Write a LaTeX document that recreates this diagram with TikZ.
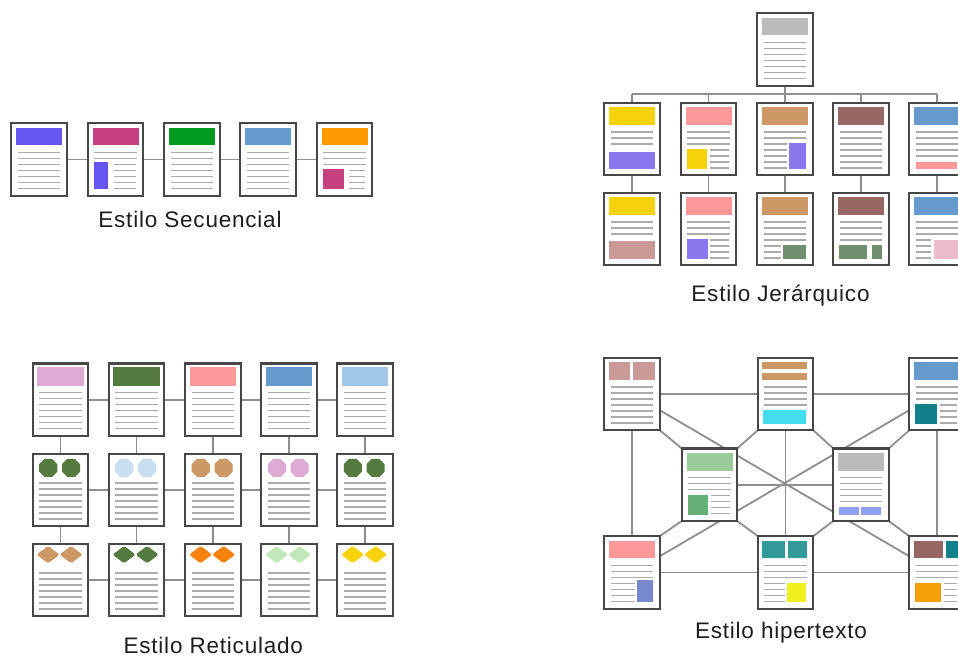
\documentclass[tikz,border=0pt]{standalone}
\usepackage{fontspec}
\setmainfont{Liberation Sans}[LetterSpace=3.5]
\usetikzlibrary{calc,backgrounds}
\definecolor{pageborder}{HTML}{474747}
\definecolor{linegray}{HTML}{ABABAB}
\definecolor{conngray}{HTML}{8E8E8E}
\definecolor{labeltext}{HTML}{1E1E1E}
\definecolor{cviolet}{HTML}{6655EE}
\definecolor{cmagenta}{HTML}{C84080}
\definecolor{cgreen}{HTML}{009922}
\definecolor{cblue}{HTML}{6699CC}
\definecolor{corange}{HTML}{FF9900}
\definecolor{cgray}{HTML}{BBBBBB}
\definecolor{cyellow}{HTML}{F5D20A}
\definecolor{cpink}{HTML}{FF9999}
\definecolor{ctan}{HTML}{CC9966}
\definecolor{cbrown}{HTML}{996666}
\definecolor{cpurple}{HTML}{8877EE}
\definecolor{crose}{HTML}{CC9999}
\definecolor{csage}{HTML}{6F8F70}
\definecolor{cpinklt}{HTML}{EEBBCC}
\definecolor{clilac}{HTML}{DDAAD6}
\definecolor{cdkgreen}{HTML}{557A3E}
\definecolor{cskyblue}{HTML}{A0C6E8}
\definecolor{cpaleblue}{HTML}{C8DFF2}
\definecolor{cbrorange}{HTML}{F8820F}
\definecolor{cltgreen}{HTML}{C0E8B8}
\definecolor{ccyan}{HTML}{44DDEE}
\definecolor{cteal}{HTML}{117F8C}
\definecolor{cmint}{HTML}{99CC99}
\definecolor{cgreenb}{HTML}{66B077}
\definecolor{cperi}{HTML}{8FA0EE}
\definecolor{cblueb}{HTML}{7788CC}
\definecolor{cteallt}{HTML}{339999}
\definecolor{clemon}{HTML}{F0F020}
\definecolor{camber}{HTML}{F5A00A}
\tikzset{
  pagebox/.style={draw=pageborder, line width=2.2pt, fill=white, minimum width=55.6pt, minimum height=72.6pt, inner sep=0pt, outer sep=0pt},
  txt/.style={draw=linegray, line width=1.5pt},
  conn/.style={draw=conngray, line width=1.8pt},
  lbl/.style={font=\fontsize{22.5}{25}\selectfont, text=labeltext, inner sep=0pt}
}
\newcommand\fullines[2]{\foreach \k in {#1,...,#2}{\draw[txt] (7.7,{30.3+6*\k}) -- (50,{30.3+6*\k});}}
\newcommand\shortlines[4]{\foreach \k in {#3,...,#4}{\draw[txt] (#1,{30.3+6*\k}) -- (#2,{30.3+6*\k});}}
\newcommand\blk[5]{\fill[#1] (#2,#3) rectangle (#4,#5);}
\newcommand\pghead[1]{\blk{#1}{6}{5.5}{52}{23.3}}
\newcommand\octa[3]{\fill[#3,shift={(#1,#2)}] (22.5:9.8) -- (67.5:9.8) -- (112.5:9.8) -- (157.5:9.8) -- (202.5:9.8) -- (247.5:9.8) -- (292.5:9.8) -- (337.5:9.8) -- cycle;}
\newcommand\octs[1]{\octa{16.7}{15.3}{#1}\octa{39.5}{15.3}{#1}}
\newcommand\diam[3]{\fill[#3,shift={(#1,#2)},rounded corners=1.5pt] (-11.5,0) -- (0,-8.7) -- (11.5,0) -- (0,8.7) -- cycle;}
\newcommand\dias[1]{\diam{16.5}{12}{#1}\diam{39.5}{12}{#1}}
\newcommand\pg[4]{\node[pagebox] (#1) at (#2,#3) {};
  \begin{scope}[shift={($(#1.north west)+(-1.1,-1.1)$)}]#4\end{scope}}
\begin{document}
\begin{tikzpicture}[x=1pt,y=-1pt]
\begin{scope}[on background layer]
  \fill[white] (0,0) rectangle (958,657);
\end{scope}
\useasboundingbox (0,0) rectangle (958,657);
% ---------------- Sequential ----------------
\pg{s1}{39}{159.5}{\pghead{cviolet}\fullines{0}{6}}
\pg{s2}{115.5}{159.5}{\pghead{cmagenta}\fullines{0}{1}\blk{cviolet}{7.3}{39.7}{21.3}{67.3}\shortlines{27.3}{49}{2}{6}}
\pg{s3}{192}{159.5}{\pghead{cgreen}\fullines{0}{6}}
\pg{s4}{268}{159.5}{\pghead{cblue}\fullines{0}{6}}
\pg{s5}{344.5}{159.5}{\pghead{corange}\fullines{0}{2}\blk{cmagenta}{7.2}{47.3}{28.8}{67.3}\shortlines{33.5}{49}{3}{6}}
\node[lbl] (tseq) at (190,219.5) {Estilo Secuencial};
% ---------------- Hierarchical ----------------
\pg{h0}{785}{49.5}{\pghead{cgray}\fullines{0}{6}}
\pg{ha1}{632}{139}{\pghead{cyellow}\fullines{0}{2}\blk{cpurple}{6}{50}{51.7}{67.3}}
\pg{ha2}{708.5}{139}{\pghead{cpink}\fullines{0}{2}\blk{cyellow}{7.3}{47.6}{27.3}{67.3}\shortlines{30}{49.3}{3}{6}}
\pg{ha3}{785}{139}{\pghead{ctan}\fullines{0}{1}\blk{cpurple}{33.3}{41.6}{49.7}{67.3}\shortlines{7.7}{31.3}{2}{6}}
\pg{ha4}{861}{139}{\pghead{cbrown}\fullines{0}{6}}
\pg{ha5}{937}{139}{\pghead{cblue}\fullines{0}{4}\blk{cpink}{7.7}{60}{49}{67.3}}
\pg{hb1}{632}{229}{\pghead{cyellow}\fullines{0}{2}\blk{crose}{6}{49.3}{51.7}{67.8}}
\pg{hb2}{708.5}{229}{\pghead{cpink}\fullines{0}{2}\blk{cpurple}{7.3}{47.6}{28}{67.3}\shortlines{30.5}{49.3}{3}{6}}
\pg{hb3}{785}{229}{\pghead{ctan}\fullines{0}{3}\blk{csage}{27.3}{53.5}{49.7}{67.3}\shortlines{7.7}{24.5}{4}{6}}
\pg{hb4}{861}{229}{\pghead{cbrown}\fullines{0}{3}\blk{csage}{7.3}{53.5}{35.3}{67.3}\blk{csage}{39.7}{53.5}{49.7}{67.3}}
\pg{hb5}{937}{229}{\pghead{cblue}\fullines{0}{2}\blk{cpinklt}{25.7}{48}{50}{67.3}\shortlines{7.7}{23.3}{3}{6}}
\coordinate (bus) at (785,94.3);
\node[lbl] (thier) at (780.5,296) {Estilo Jerárquico};
% ---------------- Grid ----------------
\pg{ga1}{60.5}{399.7}{\blk{clilac}{5.5}{5}{52}{24}\fullines{0}{6}}
\pg{ga2}{136.5}{399.7}{\blk{cdkgreen}{5.5}{5}{52}{24}\fullines{0}{6}}
\pg{ga3}{213}{399.7}{\blk{cpink}{5.5}{5}{52}{24}\fullines{0}{6}}
\pg{ga4}{289}{399.7}{\blk{cblue}{5.5}{5}{52}{24}\fullines{0}{6}}
\pg{ga5}{365}{399.7}{\blk{cskyblue}{5.5}{5}{52}{24}\fullines{0}{6}}
\pg{gb1}{60.5}{490}{\octs{cdkgreen}\fullines{0}{6}}
\pg{gb2}{136.5}{490}{\octs{cpaleblue}\fullines{0}{6}}
\pg{gb3}{213}{490}{\octs{ctan}\fullines{0}{6}}
\pg{gb4}{289}{490}{\octs{clilac}\fullines{0}{6}}
\pg{gb5}{365}{490}{\octs{cdkgreen}\fullines{0}{6}}
\pg{gc1}{60.5}{580}{\dias{ctan}\fullines{0}{6}}
\pg{gc2}{136.5}{580}{\dias{cdkgreen}\fullines{0}{6}}
\pg{gc3}{213}{580}{\dias{cbrorange}\fullines{0}{6}}
\pg{gc4}{289}{580}{\dias{cltgreen}\fullines{0}{6}}
\pg{gc5}{365}{580}{\dias{cyellow}\fullines{0}{6}}
\node[lbl] (tgrid) at (213.3,645.3) {Estilo Reticulado};
% ---------------- Hypertext ----------------
\pg{tl}{632}{394}{\blk{crose}{6}{5.7}{27.3}{23.3}\blk{crose}{30}{5.7}{51.7}{23.3}\fullines{0}{6}}
\pg{tm}{785.5}{394}{\blk{ctan}{5.5}{5.7}{50.7}{12.7}\blk{ctan}{5.5}{16}{50.7}{23.3}\fullines{0}{3}\blk{ccyan}{6.7}{53.3}{49}{67.3}}
\pg{tr}{937}{394}{\pghead{cblue}\fullines{0}{2}\blk{cteal}{7.3}{47.3}{29.3}{67.3}\shortlines{32}{49}{3}{6}}
\pg{ml}{709.5}{484.7}{\pghead{cmint}\fullines{0}{2}\blk{cgreenb}{7.3}{47.7}{27.3}{67.3}\shortlines{30}{49}{3}{6}}
\pg{mr}{861}{484.7}{\pghead{cgray}\fullines{0}{4}\blk{cperi}{7}{60}{27}{67.3}\blk{cperi}{29.3}{60}{49.3}{67.3}}
\pg{bl}{632}{572.4}{\pghead{cpink}\fullines{0}{2}\blk{cblueb}{34}{45}{50}{67.3}\shortlines{7.7}{31.7}{3}{6}}
\pg{bm}{785.5}{572.4}{\blk{cteallt}{5.5}{5.7}{28.3}{23.3}\blk{cteallt}{31}{5.7}{50.7}{23.3}\fullines{0}{2}\blk{clemon}{30.7}{47.7}{49}{67.3}\shortlines{7.7}{28.3}{3}{6}}
\pg{br}{937}{572.4}{\blk{cbrown}{5.7}{5.7}{35}{23.3}\blk{cteal}{37.7}{5.7}{52}{23.3}\fullines{0}{2}\blk{camber}{7.3}{47.7}{33.3}{67.3}\shortlines{36}{49}{3}{6}}
\node[lbl] (thyp) at (781,632.5) {Estilo hipertexto};
% ---------------- Connectors ----------------
\begin{scope}[on background layer]
  % sequential
  \draw[conn] (s1) -- (s2);
  \draw[conn] (s2) -- (s3);
  \draw[conn] (s3) -- (s4);
  \draw[conn] (s4) -- (s5);
  % hierarchical
  \draw[conn] (h0.south) -- (h0.south |- bus);
  \draw[conn] (ha1.north |- bus) -- (ha5.north |- bus);
  \foreach \i in {1,...,5}{
    \draw[conn] (ha\i.north) -- (ha\i.north |- bus);
    \draw[conn] (ha\i) -- (hb\i);
  }
  % grid
  \foreach \r in {a,b,c}{
    \draw[conn] (g\r1) -- (g\r2);
    \draw[conn] (g\r2) -- (g\r3);
    \draw[conn] (g\r3) -- (g\r4);
    \draw[conn] (g\r4) -- (g\r5);
  }
  \foreach \i in {1,...,5}{
    \draw[conn] (ga\i) -- (gb\i);
    \draw[conn] (gb\i) -- (gc\i);
  }
  % hypertext
  \draw[conn] (tl) -- (tm);
  \draw[conn] (tm) -- (tr);
  \draw[conn] (bl) -- (bm);
  \draw[conn] (bm) -- (br);
  \draw[conn] (tl) -- (bl);
  \draw[conn] (tr) -- (br);
  \draw[conn] (tm) -- (bm);
  \draw[conn] (ml) -- (mr);
  \draw[conn] (tl) -- (br);
  \draw[conn] (tr) -- (bl);
  \draw[conn] (tl.south east) -- (ml.north west);
  \draw[conn] (tm.south west) -- (ml.north east);
  \draw[conn] (tm.south east) -- (mr.north west);
  \draw[conn] (tr.south west) -- (mr.north east);
  \draw[conn] (bl.north east) -- (ml.south west);
  \draw[conn] (bm.north west) -- (ml.south east);
  \draw[conn] (bm.north east) -- (mr.south west);
  \draw[conn] (br.north west) -- (mr.south east);
\end{scope}
\end{tikzpicture}
\end{document}
